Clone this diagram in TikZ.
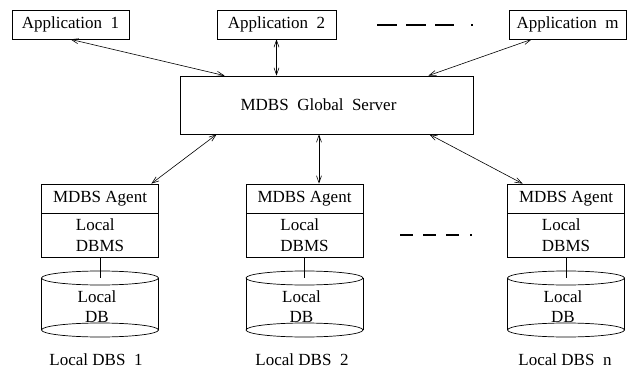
\documentclass[tikz,border=0pt]{standalone}
\usepackage{fontspec}
\setmainfont{Liberation Serif}
\usetikzlibrary{arrows.meta}

\tikzset{
  box/.style={draw, line width=0.7pt, minimum height=29pt, inner sep=2pt},
  dbmsbox/.style={draw, line width=0.7pt, minimum width=117pt, minimum height=44pt, align=left, inner sep=2pt},
  dbtext/.style={align=center, inner sep=0pt},
  link/.style={<->, line width=0.6pt, >={Straight Barb[length=7pt,width=5pt]}},
  more/.style={line width=2.6pt},
}

\begin{document}
\begin{tikzpicture}[x=1pt, y=-1pt, font=\fontsize{17}{21}\selectfont]
    \useasboundingbox (0,0) rectangle (627,369);

    % applications
    \node[box, minimum width=117pt] (app1) at (70.5,24.5) {Application~~1};
    \node[box, minimum width=119pt] (app2) at (276.5,24.5) {Application~~2};
    \node[box, minimum width=117pt] (appm) at (567.5,24.5) {Application~~m};
    \draw[more, dash pattern=on 20pt off 9pt on 20pt off 9pt on 19pt off 17pt on 2pt] (377,25) -- (474,25);

    % global server
    \node[box, minimum width=293pt, minimum height=58pt] (server) at (326.5,105) {MDBS~~Global~~Server\hspace*{16pt}};

    \draw[link] (app1.south) -- ([xshift=45pt]server.north west);
    \draw[link] (app2.south) -- (app2.south |- server.north);
    \draw[link] ([xshift=23pt]appm.south west) -- ([xshift=-45pt]server.north east);

    % local systems
    \node[box, minimum width=117pt] (agent1) at (100,198.5) {MDBS Agent};
    \node[dbmsbox] (dbms1) at (100,235) {Local\\DBMS};
    \node[box, minimum width=117pt] (agent2) at (304.5,198.5) {MDBS Agent};
    \node[dbmsbox] (dbms2) at (304.5,235) {Local\\DBMS};
    \node[box, minimum width=117pt] (agentn) at (566,198.5) {MDBS Agent};
    \node[dbmsbox] (dbmsn) at (566,235) {Local\\DBMS};
    \draw[more, dash pattern=on 13pt off 10pt on 13pt off 10pt on 13pt off 11pt on 2pt] (400,235) -- (473,235);

    \draw[link] ([xshift=37pt]server.south west) -- ([xshift=-7.5pt]agent1.north east);
    \draw[link] ([xshift=-7.5pt]server.south) -- ([xshift=14.5pt]agent2.north);
    \draw[link] ([xshift=-44pt]server.south east) -- ([xshift=15.5pt]agentn.north west);

    % databases
    \foreach \x/\n in {100/1, 304.5/2, 566/n} {
      \draw[line width=0.7pt] (\x,278) ellipse (58.5pt and 7pt);
      \draw[line width=0.7pt] (\x,330) ellipse (58.5pt and 7pt);
      \draw[line width=0.7pt] (\x-58.5,278) -- (\x-58.5,330);
      \draw[line width=0.7pt] (\x+58.5,278) -- (\x+58.5,330);
      \coordinate (dbtop\n) at (\x,278);
      \node[dbtext, font=\fontsize{17}{20}\selectfont] (db\n) at (\x-3,307) {Local\\DB};
    }
    \draw[line width=0.7pt] (dbms1.south) -- (dbtop1);
    \draw[line width=0.7pt] (dbms2.south) -- (dbtop2);
    \draw[line width=0.7pt] (dbmsn.south) -- (dbtopn);

    \node (dbs1) at (96,360) {Local DBS~~1};
    \node (dbs2) at (302,360) {Local DBS~~2};
    \node (dbsn) at (565,360) {Local DBS~~n};
\end{tikzpicture}
\end{document}
